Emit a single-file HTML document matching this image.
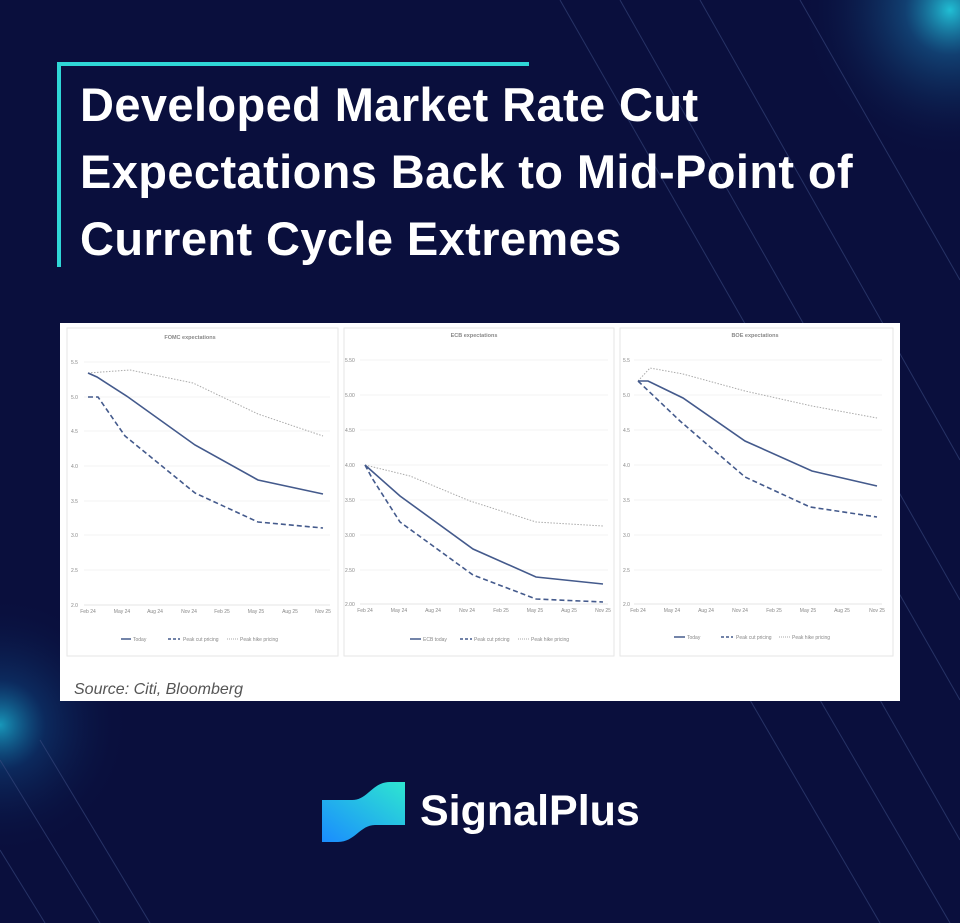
<!DOCTYPE html>
<html><head><meta charset="utf-8"><style>
html,body{margin:0;padding:0}
body{width:960px;height:923px;overflow:hidden;background:#0a0f3d;position:relative;font-family:"Liberation Sans",sans-serif}
.t{position:absolute;left:80px;color:#fff;font-weight:bold;font-size:47px;line-height:67px;top:71px;letter-spacing:0.4px}
</style></head><body>
<svg width="960" height="923" style="position:absolute;left:0;top:0">
<defs>
<radialGradient id="g1" gradientUnits="userSpaceOnUse" cx="950" cy="10" r="150"><stop offset="0" stop-color="#22c8dc" stop-opacity="0.95"/><stop offset="0.3" stop-color="#1a7ab0" stop-opacity="0.45"/><stop offset="1" stop-color="#0a0f3d" stop-opacity="0"/></radialGradient>
<radialGradient id="g2" gradientUnits="userSpaceOnUse" cx="0" cy="725" r="130"><stop offset="0" stop-color="#1ab0d0" stop-opacity="0.85"/><stop offset="0.35" stop-color="#105a98" stop-opacity="0.35"/><stop offset="1" stop-color="#0a0f3d" stop-opacity="0"/></radialGradient>
<linearGradient id="lg" x1="0" y1="1" x2="1" y2="0"><stop offset="0" stop-color="#1a8cff"/><stop offset="1" stop-color="#2ee6d0"/></linearGradient>
</defs>
<rect x="0" y="0" width="960" height="923" fill="url(#g1)"/>
<rect x="0" y="0" width="960" height="923" fill="url(#g2)"/>
<g stroke="#3a4a80" stroke-width="1" opacity="0.6">
<line x1="560" y1="0" x2="960" y2="700"/><line x1="620" y1="0" x2="960" y2="600"/><line x1="700" y1="0" x2="960" y2="460"/><line x1="800" y1="0" x2="960" y2="280"/>
<line x1="750" y1="700" x2="880" y2="923"/><line x1="820" y1="700" x2="950" y2="923"/><line x1="880" y1="700" x2="960" y2="840"/>
<line x1="0" y1="760" x2="100" y2="923"/><line x1="40" y1="740" x2="150" y2="923"/><line x1="0" y1="850" x2="45" y2="923"/>
</g>
<rect x="57" y="62" width="472" height="4" fill="#2fd6d6"/>
<rect x="57" y="62" width="4" height="205" fill="#2fd6d6"/>
<rect x="60" y="323" width="840" height="378" fill="#fff"/>
<g fill="none" stroke="#e6e6e6" stroke-width="1">
<rect x="67" y="328" width="271" height="328"/><rect x="344" y="328" width="270" height="328"/><rect x="620" y="328" width="273" height="328"/>
</g>
<g stroke="#efefef" stroke-width="0.8">
<line x1="84" y1="362" x2="330" y2="362"/><line x1="84" y1="397" x2="330" y2="397"/><line x1="84" y1="431" x2="330" y2="431"/><line x1="84" y1="466" x2="330" y2="466"/><line x1="84" y1="501" x2="330" y2="501"/><line x1="84" y1="535" x2="330" y2="535"/><line x1="84" y1="570" x2="330" y2="570"/><line x1="84" y1="605" x2="330" y2="605" stroke="#ddd"/>
<line x1="360" y1="360" x2="608" y2="360"/><line x1="360" y1="395" x2="608" y2="395"/><line x1="360" y1="430" x2="608" y2="430"/><line x1="360" y1="465" x2="608" y2="465"/><line x1="360" y1="500" x2="608" y2="500"/><line x1="360" y1="535" x2="608" y2="535"/><line x1="360" y1="570" x2="608" y2="570"/><line x1="360" y1="604" x2="608" y2="604" stroke="#ddd"/>
<line x1="634" y1="360" x2="882" y2="360"/><line x1="634" y1="395" x2="882" y2="395"/><line x1="634" y1="430" x2="882" y2="430"/><line x1="634" y1="465" x2="882" y2="465"/><line x1="634" y1="500" x2="882" y2="500"/><line x1="634" y1="535" x2="882" y2="535"/><line x1="634" y1="570" x2="882" y2="570"/><line x1="634" y1="604" x2="882" y2="604" stroke="#ddd"/>
</g>
<g font-family="Liberation Sans" font-size="5" fill="#888">
<text x="190" y="339" font-weight="bold" text-anchor="middle" font-size="5.5">FOMC expectations</text>
<text x="474" y="337" font-weight="bold" text-anchor="middle" font-size="5.5">ECB expectations</text>
<text x="755" y="337" font-weight="bold" text-anchor="middle" font-size="5.5">BOE expectations</text>
<text x="71" y="364">5.5</text><text x="71" y="399">5.0</text><text x="71" y="433">4.5</text><text x="71" y="468">4.0</text><text x="71" y="503">3.5</text><text x="71" y="537">3.0</text><text x="71" y="572">2.5</text><text x="71" y="607">2.0</text>
<text x="345" y="362">5.50</text><text x="345" y="397">5.00</text><text x="345" y="432">4.50</text><text x="345" y="467">4.00</text><text x="345" y="502">3.50</text><text x="345" y="537">3.00</text><text x="345" y="572">2.50</text><text x="345" y="606">2.00</text>
<text x="623" y="362">5.5</text><text x="623" y="397">5.0</text><text x="623" y="432">4.5</text><text x="623" y="467">4.0</text><text x="623" y="502">3.5</text><text x="623" y="537">3.0</text><text x="623" y="572">2.5</text><text x="623" y="606">2.0</text>
<g text-anchor="middle"><text x="88" y="613">Feb 24</text><text x="122" y="613">May 24</text><text x="155" y="613">Aug 24</text><text x="189" y="613">Nov 24</text><text x="222" y="613">Feb 25</text><text x="256" y="613">May 25</text><text x="290" y="613">Aug 25</text><text x="323" y="613">Nov 25</text>
<text x="365" y="612">Feb 24</text><text x="399" y="612">May 24</text><text x="433" y="612">Aug 24</text><text x="467" y="612">Nov 24</text><text x="501" y="612">Feb 25</text><text x="535" y="612">May 25</text><text x="569" y="612">Aug 25</text><text x="603" y="612">Nov 25</text>
<text x="638" y="612">Feb 24</text><text x="672" y="612">May 24</text><text x="706" y="612">Aug 24</text><text x="740" y="612">Nov 24</text><text x="774" y="612">Feb 25</text><text x="808" y="612">May 25</text><text x="842" y="612">Aug 25</text><text x="877" y="612">Nov 25</text></g>
<text x="133" y="641">Today</text><text x="183" y="641">Peak cut pricing</text><text x="240" y="641">Peak hike pricing</text>
<text x="423" y="641">ECB today</text><text x="474" y="641">Peak cut pricing</text><text x="531" y="641">Peak hike pricing</text>
<text x="687" y="639">Today</text><text x="736" y="639">Peak cut pricing</text><text x="792" y="639">Peak hike pricing</text>
</g>
<g fill="none" stroke="#445a8c">
<line x1="121" y1="639" x2="131" y2="639" stroke-width="1.5"/><line x1="168" y1="639" x2="180" y2="639" stroke-width="1.5" stroke-dasharray="3,2"/><line x1="227" y1="639" x2="238" y2="639" stroke="#aaa" stroke-dasharray="1,1"/>
<line x1="410" y1="639" x2="421" y2="639" stroke-width="1.5"/><line x1="460" y1="639" x2="472" y2="639" stroke-width="1.5" stroke-dasharray="3,2"/><line x1="518" y1="639" x2="529" y2="639" stroke="#aaa" stroke-dasharray="1,1"/>
<line x1="674" y1="637" x2="685" y2="637" stroke-width="1.5"/><line x1="721" y1="637" x2="733" y2="637" stroke-width="1.5" stroke-dasharray="3,2"/><line x1="779" y1="637" x2="790" y2="637" stroke="#aaa" stroke-dasharray="1,1"/>
<polyline stroke="#aaa" stroke-width="1" stroke-dasharray="1.5,1.5" points="88,373 130,370 193,383 258,414 323,436"/>
<polyline stroke-width="1.6" points="88,373 97,377 128,397 195,445 258,480 323,494"/>
<polyline stroke-width="1.6" stroke-dasharray="5,3" points="88,397 98,397 125,436 195,493 258,522 323,528"/>
<polyline stroke="#aaa" stroke-width="1" stroke-dasharray="1.5,1.5" points="365,465 410,476 470,501 536,522 603,526"/>
<polyline stroke-width="1.6" points="365,465 400,496 473,549 536,577 603,584"/>
<polyline stroke-width="1.6" stroke-dasharray="5,3" points="365,465 372,478 400,522 473,575 536,599 603,602"/>
<polyline stroke="#aaa" stroke-width="1" stroke-dasharray="1.5,1.5" points="638,381 650,368 683,374 745,391 812,406 877,418"/>
<polyline stroke-width="1.6" points="638,381 648,381 683,398 745,441 812,471 877,486"/>
<polyline stroke-width="1.6" stroke-dasharray="5,3" points="638,381 680,421 745,477 810,507 877,517"/>
</g>
<text x="74" y="694" font-family="Liberation Sans" font-style="italic" font-size="16" fill="#555">Source: Citi, Bloomberg</text>
<path d="M322,800 L352,800 C368,800 372,782 390,782 L405,782 L405,825 L375,825 C360,825 355,842 338,842 L322,842 Z" fill="url(#lg)"/>
<text x="420" y="825" font-family="Liberation Sans" font-weight="bold" font-size="43" fill="#fff">SignalPlus</text>
</svg>
<div class="t">Developed Market Rate Cut<br>Expectations Back to Mid-Point of<br>Current Cycle Extremes</div>
</body></html>
